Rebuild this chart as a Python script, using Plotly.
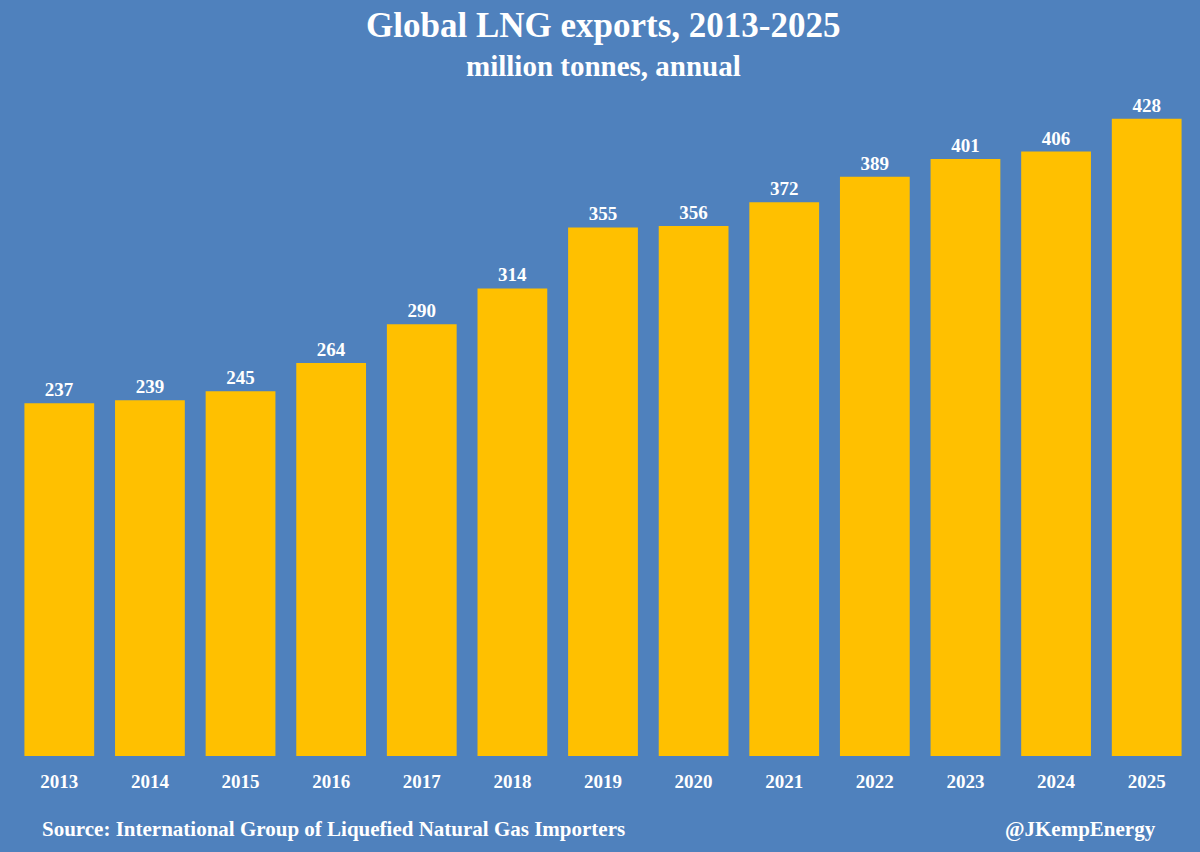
import plotly.graph_objects as go

years = [str(y) for y in range(2013, 2026)]
exports = [237, 239, 245, 264, 290, 314, 355, 356, 372, 389, 401, 406, 428]

BG = "#4F81BD"
BAR = "#FFC000"
FONT = "Liberation Serif"

fig = go.Figure(go.Bar(
    x=years, y=exports, marker_color=BAR, marker_line_width=0,
    text=["<b>%d</b>" % v for v in exports], textposition="outside",
    textfont=dict(family=FONT, size=19, color="white"), cliponaxis=False,
))

fig.update_layout(
    width=1200, height=852,
    paper_bgcolor=BG, plot_bgcolor=BG,
    margin=dict(l=14, r=8, t=86, b=96),
    bargap=0.23,
    showlegend=False,
    font=dict(family=FONT, color="white"),
    xaxis=dict(showgrid=False, showline=False, ticks="", ticklabelstandoff=12,
               tickfont=dict(family=FONT, size=19, color="white"),
               tickprefix="<b>", ticksuffix="</b>"),
    yaxis=dict(range=[0, 450], visible=False),
    annotations=[
        dict(text="<b>Global LNG exports, 2013-2025</b>", x=0.5, showarrow=False,
             font=dict(family=FONT, size=35, color="white")),
        dict(text="<b>million tonnes, annual</b>", x=0.5, showarrow=False,
             font=dict(family=FONT, size=29, color="white")),
        dict(text="<b>Source: International Group of Liquefied Natural Gas Importers</b>",
             x=40, showarrow=False, xanchor="left",
             font=dict(family=FONT, size=21, color="white")),
        dict(text="<b>@JKempEnergy</b>", x=1158, showarrow=False, xanchor="right",
             font=dict(family=FONT, size=21, color="white")),
    ],
)
# place annotations in pixel terms
for a, ypx in zip(fig.layout.annotations, [26, 66, 829, 829]):
    a.xref = "paper"
    a.yref = "paper"
    a.y = (852 - 96 - ypx) / (852 - 96 - 86)
    a.yanchor = "middle"
for a in fig.layout.annotations[2:]:
    a.x = (a.x - 14) / (1200 - 22)

fig.write_html("out.html", config={"displayModeBar": False})
with open("out.html") as f:
    html = f.read()
html = html.replace("<head>", "<head><style>body{margin:0}</style>", 1)
with open("out.html", "w") as f:
    f.write(html)
